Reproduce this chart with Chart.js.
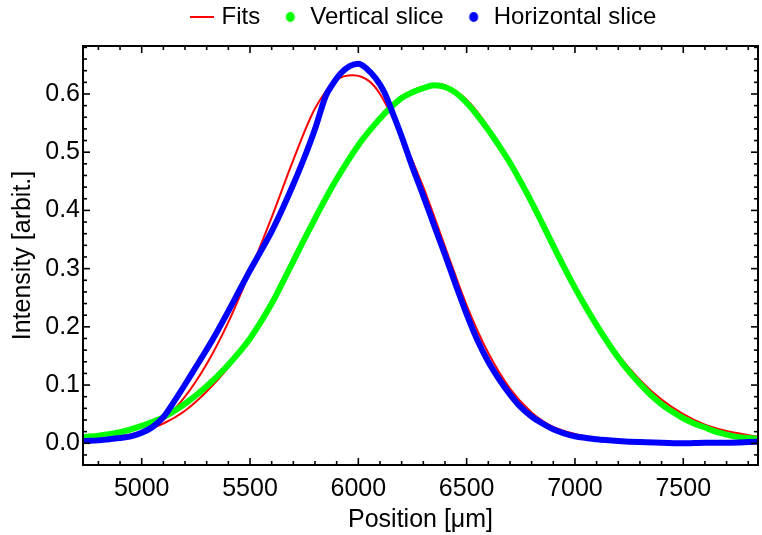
<!DOCTYPE html>
<html><head><meta charset="utf-8">
<script src="https://cdn.jsdelivr.net/npm/chart.js@4/dist/chart.umd.min.js"></script>
<style>html,body{margin:0;padding:0;background:#fff}#wrap{width:762px;height:535px}</style>
</head><body><div id="wrap"><canvas id="c" width="762" height="535"></canvas></div>
<script>
// ---- data ----
const seriesNames = ['Fits', 'Vertical slice', 'Horizontal slice'];

const xHorizontal = [4740,4800,4850,4900,4950,5000,5050,5100,5150,5200,5250,5300,5350,5400,5450,5500,5550,5600,5650,5700,5750,5800,5850,5880,5920,5960,6000,6040,6080,6120,6160,6200,6250,6300,6350,6400,6450,6500,6550,6600,6650,6700,6750,6800,6850,6900,6950,7000,7100,7200,7300,7400,7500,7600,7700,7800,7860];
const horizontalSlice = [0.004,0.005,0.007,0.009,0.012,0.018,0.028,0.045,0.072,0.101,0.131,0.161,0.193,0.227,0.262,0.297,0.330,0.364,0.403,0.445,0.490,0.540,0.597,0.616,0.636,0.648,0.652,0.643,0.627,0.603,0.566,0.527,0.474,0.425,0.374,0.324,0.272,0.222,0.177,0.140,0.110,0.084,0.062,0.046,0.034,0.024,0.017,0.012,0.007,0.004,0.002,0.001,0.000,0.001,0.001,0.002,0.003];

const xVertical = [4740,4800,4900,5000,5100,5200,5300,5400,5500,5600,5650,5700,5750,5800,5850,5900,5950,6000,6050,6100,6150,6200,6250,6300,6350,6400,6450,6500,6550,6600,6650,6700,6750,6800,6850,6900,6950,7000,7050,7100,7150,7200,7250,7300,7350,7400,7450,7500,7550,7600,7650,7700,7750,7800,7860];
const verticalSlice = [0.011,0.013,0.019,0.030,0.045,0.068,0.098,0.135,0.180,0.240,0.276,0.313,0.350,0.386,0.421,0.454,0.484,0.512,0.536,0.558,0.577,0.593,0.603,0.610,0.615,0.612,0.602,0.585,0.563,0.538,0.511,0.482,0.449,0.414,0.377,0.339,0.302,0.267,0.234,0.203,0.174,0.147,0.123,0.102,0.083,0.067,0.054,0.043,0.034,0.027,0.020,0.015,0.011,0.009,0.007];

const xFitHorizontal = [4729,4800,4900,5000,5100,5200,5300,5400,5500,5600,5700,5800,5900,5975,6050,6100,6200,6300,6400,6500,6600,6700,6800,6900,7000,7100,7200,7300,7500,7850];
const fitHorizontal = [0.004,0.005,0.009,0.018,0.040,0.080,0.136,0.208,0.295,0.388,0.487,0.575,0.624,0.632,0.622,0.600,0.527,0.440,0.338,0.237,0.155,0.094,0.053,0.028,0.016,0.009,0.005,0.003,0.001,0.000];

const xFitVertical = [4729,4800,4900,5000,5100,5200,5300,5400,5500,5600,5700,5800,5900,6000,6100,6200,6300,6360,6400,6500,6600,6700,6800,6900,7000,7100,7200,7300,7400,7500,7600,7700,7800,7850];
const fitVertical = [0.006,0.008,0.012,0.020,0.034,0.056,0.089,0.130,0.180,0.240,0.310,0.385,0.455,0.513,0.562,0.596,0.613,0.617,0.615,0.590,0.543,0.480,0.410,0.337,0.268,0.206,0.152,0.109,0.075,0.050,0.032,0.021,0.014,0.011];

const xTickValues = [5000,5500,6000,6500,7000,7500];
const yTickValues = [0.0,0.1,0.2,0.3,0.4,0.5,0.6];

// ---- helpers ----
const pts = (xs, ys) => xs.map((x, i) => ({x, y: ys[i]}));
const FONT = 'Liberation Sans, Arial, sans-serif';

function iconLine(color){
  const c=document.createElement('canvas'); c.width=24; c.height=4;
  const g=c.getContext('2d'); g.strokeStyle=color; g.lineWidth=2;
  g.beginPath(); g.moveTo(0,2); g.lineTo(24,2); g.stroke(); return c;
}
function iconDot(color){
  const c=document.createElement('canvas'); c.width=12; c.height=12;
  const g=c.getContext('2d'); g.fillStyle=color;
  g.beginPath(); g.ellipse(6,6,4.5,5,0,0,Math.PI*2); g.fill(); return c;
}

const framePlugin = {
  id: 'frame',
  beforeLayout(chart){
    const lg = chart.legend;
    if (lg && !lg._fixedH){
      const f = lg.fit;
      lg.fit = function(){ f.call(this); if (this.options.display) this.height = 46; };
      lg._fixedH = true;
    }
  },
  afterLayout(chart){
    const lg = chart.legend;
    if (lg){ lg.left += 46; lg.right += 46; lg.top -= 17; lg.bottom -= 17; }
  },
  afterDatasetsDraw(chart){
    const {ctx, chartArea:{left,right,top,bottom}, scales:{x,y}} = chart;
    ctx.save();
    ctx.strokeStyle = '#000';
    ctx.lineWidth = 1.6;
    const seg=(a,b,c,d)=>{ctx.beginPath();ctx.moveTo(a,b);ctx.lineTo(c,d);ctx.stroke();};
    for (let v = 4800; v <= 7800; v += 100){
      const px = x.getPixelForValue(v);
      const len = v % 500 === 0 ? 7 : 4;
      seg(px, bottom, px, bottom - len);
      seg(px, top, px, top + len);
    }
    for (let k = -1; k <= 34; k++){
      const py = y.getPixelForValue(k * 0.02);
      if (py < top + 1 || py > bottom - 1) continue;
      const len = k % 5 === 0 ? 7 : 4;
      seg(left, py, left + len, py);
      seg(right, py, right - len, py);
    }
    ctx.lineWidth = 2;
    ctx.strokeRect(left, top, right - left, bottom - top);
    ctx.restore();
  }
};

const dataStyle = (color, order) => ({
  showLine: true, borderColor: color, backgroundColor: color, borderWidth: 6,
  pointRadius: 0, cubicInterpolationMode: 'monotone', borderCapStyle: 'round', borderJoinStyle: 'round', order, clip: 0
});

new Chart(document.getElementById('c'), {
  type: 'scatter',
  data: {
    datasets: [
      Object.assign({label: seriesNames[2], data: pts(xHorizontal, horizontalSlice)}, dataStyle('#0000ff', 0)),
      Object.assign({label: seriesNames[1], data: pts(xVertical, verticalSlice)}, dataStyle('#00ff00', 1)),
      {label: seriesNames[0], data: pts(xFitHorizontal, fitHorizontal), showLine: true, borderColor: '#ff0000', borderWidth: 2, pointRadius: 0, cubicInterpolationMode: 'monotone', order: 2, clip: 0},
      {label: seriesNames[0] + ' v', data: pts(xFitVertical, fitVertical), showLine: true, borderColor: '#ff0000', borderWidth: 2, pointRadius: 0, cubicInterpolationMode: 'monotone', order: 3, clip: 0}
    ]
  },
  options: {
    responsive: false, animation: false, devicePixelRatio: 1,
    layout: {padding: {left: 0, right: 4, top: 0, bottom: 0}},
    plugins: {
      tooltip: {enabled: false},
      legend: {
        position: 'top', align: 'center',
        labels: {
          usePointStyle: true, boxWidth: 16, boxHeight: 16, padding: 22, color: '#000',
          font: {family: FONT, size: 24},
          generateLabels: () => [
            {text: seriesNames[0], pointStyle: iconLine('#ff0000'), fillStyle: '#ff0000', strokeStyle: '#ff0000', lineWidth: 0, hidden: false, datasetIndex: 2},
            {text: seriesNames[1], pointStyle: iconDot('#00ff00'), fillStyle: '#00ff00', strokeStyle: '#00ff00', lineWidth: 0, hidden: false, datasetIndex: 1},
            {text: seriesNames[2], pointStyle: iconDot('#0000ff'), fillStyle: '#0000ff', strokeStyle: '#0000ff', lineWidth: 0, hidden: false, datasetIndex: 0}
          ]
        }
      }
    },
    scales: {
      x: {
        type: 'linear', min: 4729, max: 7845,
        grid: {display: false, drawTicks: false}, border: {display: false},
        afterBuildTicks: s => { s.ticks = xTickValues.map(v => ({value: v})); },
        afterFit: s => { s.height = 70; },
        ticks: {color: '#000', padding: 9, maxRotation: 0, font: {family: FONT, size: 25}, callback: v => String(v)},
        title: {display: true, text: 'Position [μm]', color: '#000', font: {family: FONT, size: 25}, padding: {top: 0, bottom: 0}}
      },
      y: {
        type: 'linear', min: -0.0373, max: 0.6824,
        grid: {display: false, drawTicks: false}, border: {display: false},
        afterBuildTicks: s => { s.ticks = yTickValues.map(v => ({value: v})); },
        afterFit: s => { s.width = 83; },
        ticks: {color: '#000', padding: 3, font: {family: FONT, size: 25}, callback: v => Number(v).toFixed(1)},
        title: {display: true, text: 'Intensity [arbit.]', color: '#000', font: {family: FONT, size: 25}, padding: {top: 8, bottom: 0}}
      }
    }
  },
  plugins: [framePlugin]
});
</script>
</body></html>
